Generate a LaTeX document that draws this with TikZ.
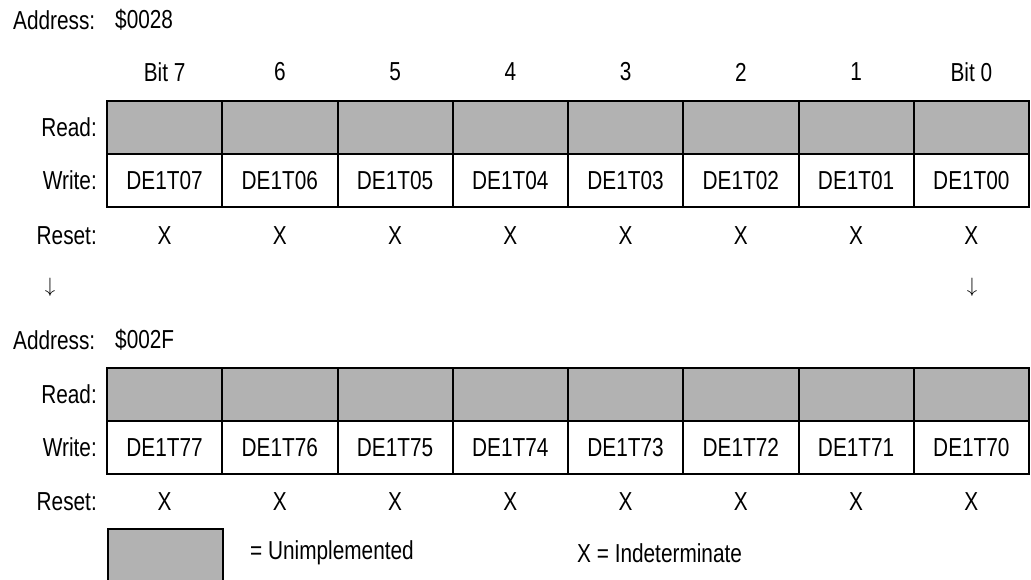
\documentclass[tikz,border=0pt]{standalone}
\usepackage{fontspec}
\setmainfont{Liberation Sans}[FakeStretch=0.8]
\usetikzlibrary{positioning}

\begin{document}
\begin{tikzpicture}[x=1pt,y=1pt,
    every node/.style={font=\fontsize{26}{30}\selectfont,inner sep=0pt},
    cell/.style={draw,line width=2pt,minimum width=115.25pt,minimum height=53pt},
    grey cell/.style={cell,fill=black!30},
    row label/.style={anchor=east}]
  \useasboundingbox (0,0) rectangle (1031,-579);
  % first register
  \node[anchor=west] (addrA) at (13,-20) {Address:};
  \node[anchor=west] (addrB) at (115,-20) {\$0028};
  \foreach \i in {0,...,7} {
    \pgfmathtruncatemacro\b{7-\i}
    \node[grey cell] (rdA\b) at (164.625+115.25*\i,-127.5) {};
    \node[cell] (wrA\b) at (164.625+115.25*\i,-180.5) {DE1T0\b};
    \node (rsA\b) at (164.625+115.25*\i,-236) {X};
    \ifnum\i>0 \ifnum\i<7
      \node (bit\b) at (164.625+115.25*\i,-72) {\b};
    \fi\fi
  }
  \node (bit7) at (164.625,-72) {Bit 7};
  \node (bit0) at (971.375,-72) {Bit 0};
  \node[row label] (rdlblA) at (97,-127.5) {Read:};
  \node[row label] (wrlblA) at (97,-180.5) {Write:};
  \node[row label] (rslblA) at (97,-236) {Reset:};
  \node (dnL) at (50,-287) {\fontsize{21}{25}\selectfont$\downarrow$};
  \node (dnR) at (972,-287) {\fontsize{21}{25}\selectfont$\downarrow$};
  % last register
  \node[anchor=west] (addrC) at (13,-340) {Address:};
  \node[anchor=west] (addrD) at (115,-340) {\$002F};
  \foreach \i in {0,...,7} {
    \pgfmathtruncatemacro\b{7-\i}
    \node[grey cell] (rdB\b) at (164.625+115.25*\i,-394.5) {};
    \node[cell] (wrB\b) at (164.625+115.25*\i,-447.5) {DE1T7\b};
    \node (rsB\b) at (164.625+115.25*\i,-502) {X};
  }
  \node[row label] (rdlblB) at (97,-394.5) {Read:};
  \node[row label] (wrlblB) at (97,-447.5) {Write:};
  \node[row label] (rslblB) at (97,-502) {Reset:};
  % key
  \node[grey cell,minimum height=62pt,anchor=north west] (key) at (107,-528) {};
  \node[anchor=west] (keyU) at (250,-553) {= Unimplemented};
  \node[anchor=west] (keyX) at (577,-553) {X = Indeterminate};
\end{tikzpicture}
\end{document}
